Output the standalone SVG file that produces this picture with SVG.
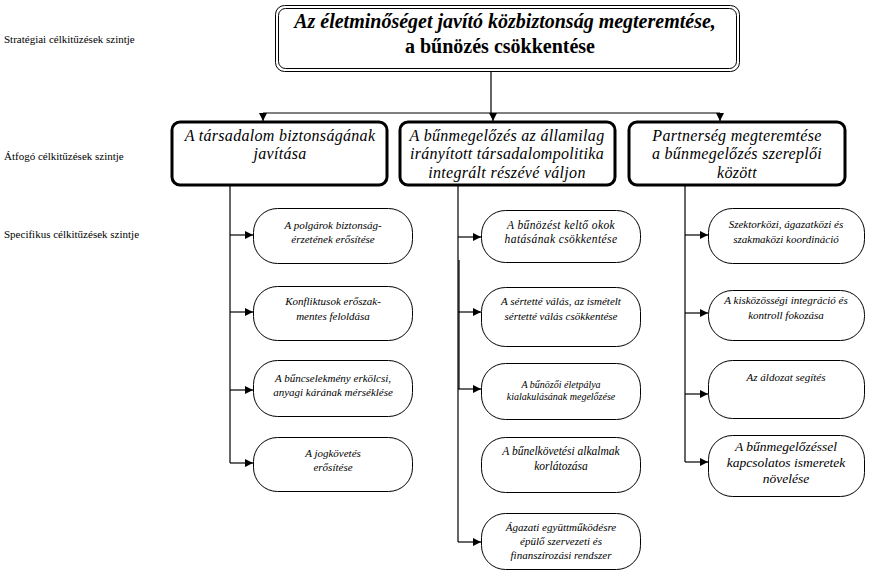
<svg xmlns="http://www.w3.org/2000/svg" width="872" height="575" viewBox="0 0 872 575" font-family="'Liberation Serif', Tinos, 'DejaVu Serif', serif">
<style>
text{font-family:"Liberation Serif",Tinos,"Times New Roman","DejaVu Serif",serif;fill:#000}
.lvl{font-size:11px}
.top1{font-size:20px;font-weight:bold;font-style:italic}
.top2{font-size:20px;font-weight:bold}
.mid{font-size:16px;font-style:italic;letter-spacing:0.3px}
.sp{font-size:11px;font-style:italic}
.mbox{fill:#fff;stroke:#000;stroke-width:3}
.sbox{fill:#fff;stroke:#000;stroke-width:1}
.ln{stroke:#000;stroke-width:1.2;fill:none}
</style>
<defs>
<marker id="ah" viewBox="0 0 10 10" refX="10" refY="5" markerWidth="9" markerHeight="8" markerUnits="userSpaceOnUse" orient="auto">
<path d="M0,0 L10,5 L0,10 z" fill="#000"/>
</marker>
</defs>
<rect width="872" height="575" fill="#fff"/>
<g id="levels">
<text class="lvl" x="4" y="43">Stratégiai célkitűzések szintje</text>
<text class="lvl" x="4" y="160">Átfogó célkitűzések szintje</text>
<text class="lvl" x="4" y="238">Specifikus célkitűzések szintje</text>
</g>
<g id="connectors">
<path class="ln" d="M491,72 V113 M263,113 H720"/>
<path class="ln" d="M263,113 V121" marker-end="url(#ah)"/>
<path class="ln" d="M493,113 V121" marker-end="url(#ah)"/>
<path class="ln" d="M720,113 V121" marker-end="url(#ah)"/>
<path class="ln" d="M230,186 V463"/>
<path class="ln" d="M458,186 V542"/>
<path class="ln" d="M459,260 V389" stroke-width="1"/>
<path class="ln" d="M685,186 V462"/>
<path class="ln" d="M230,235 H253" marker-end="url(#ah)"/>
<path class="ln" d="M230,312 H253" marker-end="url(#ah)"/>
<path class="ln" d="M230,390 H253" marker-end="url(#ah)"/>
<path class="ln" d="M230,463 H253" marker-end="url(#ah)"/>
<path class="ln" d="M458,237 H481" marker-end="url(#ah)"/>
<path class="ln" d="M458,312 H481" marker-end="url(#ah)"/>
<path class="ln" d="M458,389 H481" marker-end="url(#ah)"/>
<path class="ln" d="M458,542 H481" marker-end="url(#ah)"/>
<path class="ln" d="M685,235 H708" marker-end="url(#ah)"/>
<path class="ln" d="M685,313 H708" marker-end="url(#ah)"/>
<path class="ln" d="M685,394 H708" marker-end="url(#ah)"/>
<path class="ln" d="M685,462 H708" marker-end="url(#ah)"/>
</g>
<g id="strategic">
<rect x="275.5" y="5.5" width="464" height="66" rx="9" fill="#fff" stroke="#000" stroke-width="1"/>
<rect x="278.5" y="8.5" width="458" height="60" rx="7" fill="none" stroke="#000" stroke-width="1"/>
<text class="top1" x="505" y="28" text-anchor="middle">Az életminőséget javító közbiztonság megteremtése,</text>
<text class="top2" x="500" y="53" text-anchor="middle">a bűnözés csökkentése</text>
</g>
<g id="m1">
<rect class="mbox" x="172" y="122" width="215" height="63" rx="8"/>
<text class="mid" x="280" y="141" text-anchor="middle">A társadalom biztonságának</text>
<text class="mid" x="280" y="159" text-anchor="middle">javítása</text>
</g>
<g id="m2">
<rect class="mbox" x="400" y="122" width="215" height="63" rx="8"/>
<text class="mid" x="507" y="141" text-anchor="middle">A bűnmegelőzés az államilag</text>
<text class="mid" x="507" y="159" text-anchor="middle">irányított társadalompolitika</text>
<text class="mid" x="507" y="178" text-anchor="middle">integrált részévé váljon</text>
</g>
<g id="m3">
<rect class="mbox" x="629" y="122" width="216" height="63" rx="8"/>
<text class="mid" x="737" y="141" text-anchor="middle">Partnerség megteremtése</text>
<text class="mid" x="737" y="159" text-anchor="middle">a bűnmegelőzés szereplői</text>
<text class="mid" x="737" y="178" text-anchor="middle">között</text>
</g>
<g id="s1">
<rect class="sbox" x="253.5" y="208.5" width="159" height="55" rx="24"/>
<text class="sp" x="333" y="229" text-anchor="middle">A polgárok biztonság-</text>
<text class="sp" x="333" y="243" text-anchor="middle">érzetének erősítése</text>
</g>
<g id="s2">
<rect class="sbox" x="253.5" y="286.5" width="159" height="54" rx="24"/>
<text class="sp" x="333" y="305" text-anchor="middle">Konfliktusok erőszak-</text>
<text class="sp" x="333" y="320" text-anchor="middle">mentes feloldása</text>
</g>
<g id="s3">
<rect class="sbox" x="253.5" y="360.5" width="159" height="56" rx="24"/>
<text class="sp" x="333" y="382" text-anchor="middle">A bűncselekmény erkölcsi,</text>
<text class="sp" x="333" y="396" text-anchor="middle">anyagi kárának mérséklése</text>
</g>
<g id="s4">
<rect class="sbox" x="253.5" y="437.5" width="159" height="54" rx="24"/>
<text class="sp" x="333" y="457" text-anchor="middle">A jogkövetés</text>
<text class="sp" x="333" y="471" text-anchor="middle">erősítése</text>
</g>
<g id="s5">
<rect class="sbox" x="481.5" y="210.5" width="159" height="52" rx="24"/>
<text class="sp" x="561" y="229" text-anchor="middle" style="font-size:11.5px;letter-spacing:0.4px">A bűnözést keltő okok</text>
<text class="sp" x="561" y="243" text-anchor="middle" style="font-size:11.5px;letter-spacing:0.4px">hatásának csökkentése</text>
</g>
<g id="s6">
<rect class="sbox" x="481.5" y="287.5" width="159" height="59" rx="24"/>
<text class="sp" x="561" y="305" text-anchor="middle">A sértetté válás, az ismételt</text>
<text class="sp" x="561" y="320" text-anchor="middle">sértetté válás csökkentése</text>
</g>
<g id="s7">
<rect class="sbox" x="481.5" y="363.5" width="159" height="56" rx="24"/>
<text class="sp" x="561" y="388" text-anchor="middle" style="font-size:10px">A bűnözői életpálya</text>
<text class="sp" x="561" y="400" text-anchor="middle" style="font-size:10px">kialakulásának megelőzése</text>
</g>
<g id="s8">
<rect class="sbox" x="481.5" y="437.5" width="159" height="55" rx="24"/>
<text class="sp" x="561" y="455" text-anchor="middle" style="font-size:11.5px">A bűnelkövetési alkalmak</text>
<text class="sp" x="561" y="470" text-anchor="middle" style="font-size:11.5px">korlátozása</text>
</g>
<g id="s9">
<rect class="sbox" x="481.5" y="513.5" width="159" height="56" rx="24"/>
<text class="sp" x="561" y="531" text-anchor="middle">Ágazati együttműködésre</text>
<text class="sp" x="561" y="545" text-anchor="middle">épülő szervezeti és</text>
<text class="sp" x="561" y="559" text-anchor="middle">finanszírozási rendszer</text>
</g>
<g id="s10">
<rect class="sbox" x="708.5" y="208.5" width="156" height="55" rx="24"/>
<text class="sp" x="786" y="228" text-anchor="middle">Szektorközi, ágazatközi és</text>
<text class="sp" x="786" y="243" text-anchor="middle">szakmaközi koordináció</text>
</g>
<g id="s11">
<rect class="sbox" x="708.5" y="290.5" width="156" height="50" rx="24"/>
<text class="sp" x="786" y="304" text-anchor="middle">A kisközösségi integráció és</text>
<text class="sp" x="786" y="319" text-anchor="middle">kontroll fokozása</text>
</g>
<g id="s12">
<rect class="sbox" x="708.5" y="360.5" width="156" height="58" rx="24"/>
<text class="sp" x="786" y="381" text-anchor="middle">Az áldozat segítés</text>
</g>
<g id="s13">
<rect class="sbox" x="708.5" y="435.5" width="156" height="61" rx="24"/>
<text class="sp" x="786" y="451" text-anchor="middle" style="font-size:13.5px">A bűnmegelőzéssel</text>
<text class="sp" x="786" y="467" text-anchor="middle" style="font-size:13.5px">kapcsolatos ismeretek</text>
<text class="sp" x="786" y="483" text-anchor="middle" style="font-size:13.5px">növelése</text>
</g>
</svg>
